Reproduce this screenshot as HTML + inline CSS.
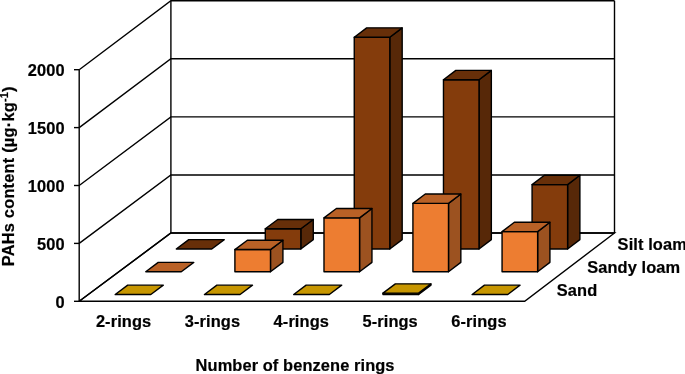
<!DOCTYPE html>
<html><head><meta charset="utf-8"><title>PAHs content</title>
<style>html,body{margin:0;padding:0;background:#fff}svg{display:block}</style></head>
<body>
<svg width="685" height="374" viewBox="0 0 685 374">
<rect width="685" height="374" fill="#fff"/>
<g fill="none" stroke="#000" stroke-width="1.4" stroke-linejoin="miter" stroke-linecap="butt">
<polyline points="79.20,301.30 170.90,233.00 614.50,233.00"/>
<polyline points="79.20,243.40 170.90,174.93 614.50,174.93"/>
<polyline points="79.20,185.50 170.90,116.85 614.50,116.85"/>
<polyline points="79.20,127.60 170.90,58.78 614.50,58.78"/>
<polyline points="79.20,69.70 170.90,0.71 614.50,0.71"/>
<polygon points="79.20,301.30 524.70,301.30 614.50,233.00 170.90,233.00"/>
<line x1="79.20" y1="301.30" x2="79.20" y2="69.70"/>
<line x1="170.90" y1="233.00" x2="170.90" y2="0.71"/>
<line x1="614.50" y1="233.00" x2="614.50" y2="0.71"/>
<line x1="74.00" y1="301.30" x2="79.20" y2="301.30"/>
<line x1="74.00" y1="243.40" x2="79.20" y2="243.40"/>
<line x1="74.00" y1="185.50" x2="79.20" y2="185.50"/>
<line x1="74.00" y1="127.60" x2="79.20" y2="127.60"/>
<line x1="74.00" y1="69.70" x2="79.20" y2="69.70"/>
</g>
<g stroke="#000" stroke-width="1.4" stroke-linejoin="round">
<polygon fill="#672F09" points="176.25,248.94 211.77,248.94 224.27,239.60 188.76,239.60"/>
<polygon fill="#572808" points="300.83,248.94 313.27,239.60 313.27,219.45 300.83,228.79"/>
<polygon fill="#843C0C" points="265.30,248.94 300.83,248.94 300.83,228.79 265.30,228.79"/>
<polygon fill="#672F09" points="265.30,228.79 300.83,228.79 313.27,219.45 277.77,219.45"/>
<polygon fill="#572808" points="389.79,248.94 402.18,239.60 402.18,27.83 389.79,37.25"/>
<polygon fill="#843C0C" points="354.26,248.94 389.79,248.94 389.79,37.25 354.26,37.25"/>
<polygon fill="#672F09" points="354.26,37.25 389.79,37.25 402.18,27.83 366.68,27.83"/>
<polygon fill="#572808" points="479.00,248.94 491.34,239.60 491.34,70.34 479.00,79.75"/>
<polygon fill="#843C0C" points="443.47,248.94 479.00,248.94 479.00,79.75 443.47,79.75"/>
<polygon fill="#672F09" points="443.47,79.75 479.00,79.75 491.34,70.34 455.83,70.34"/>
<polygon fill="#572808" points="567.60,248.94 579.89,239.60 579.89,175.23 567.60,184.59"/>
<polygon fill="#843C0C" points="532.08,248.94 567.60,248.94 567.60,184.59 532.08,184.59"/>
<polygon fill="#672F09" points="532.08,184.59 567.60,184.59 579.89,175.23 544.39,175.23"/>
<polygon fill="#B96126" points="145.72,271.70 181.29,271.70 193.79,262.37 158.23,262.37"/>
<polygon fill="#9C5220" points="270.48,271.70 282.92,262.37 282.92,240.23 270.48,249.57"/>
<polygon fill="#ED7D31" points="234.90,271.70 270.48,271.70 270.48,249.57 234.90,249.57"/>
<polygon fill="#B96126" points="234.90,249.57 270.48,249.57 282.92,240.23 247.37,240.23"/>
<polygon fill="#9C5220" points="359.56,271.70 371.95,262.37 371.95,208.48 359.56,217.83"/>
<polygon fill="#ED7D31" points="323.99,271.70 359.56,271.70 359.56,217.83 323.99,217.83"/>
<polygon fill="#B96126" points="323.99,217.83 359.56,217.83 371.95,208.48 336.40,208.48"/>
<polygon fill="#9C5220" points="448.50,271.70 460.84,262.37 460.84,194.05 448.50,203.41"/>
<polygon fill="#ED7D31" points="412.92,271.70 448.50,271.70 448.50,203.41 412.92,203.41"/>
<polygon fill="#B96126" points="412.92,203.41 448.50,203.41 460.84,194.05 425.28,194.05"/>
<polygon fill="#9C5220" points="537.63,271.70 549.92,262.37 549.92,222.30 537.63,231.65"/>
<polygon fill="#ED7D31" points="502.06,271.70 537.63,271.70 537.63,231.65 502.06,231.65"/>
<polygon fill="#B96126" points="502.06,231.65 537.63,231.65 549.92,222.30 514.37,222.30"/>
<polygon fill="#C79600" points="115.19,294.47 150.81,294.47 163.31,285.14 127.71,285.14"/>
<polygon fill="#C79600" points="204.45,294.47 240.08,294.47 252.52,285.14 216.92,285.14"/>
<polygon fill="#C79600" points="293.71,294.47 329.34,294.47 341.73,285.14 306.13,285.14"/>
<polygon fill="#A87E00" points="418.60,294.47 430.94,285.14 430.94,283.83 418.60,293.17"/>
<polygon fill="#FFC000" points="382.97,294.47 418.60,294.47 418.60,293.17 382.97,293.17"/>
<polygon fill="#C79600" points="382.97,293.17 418.60,293.17 430.94,283.83 395.34,283.83"/>
<polygon fill="#C79600" points="472.14,294.47 507.76,294.47 520.05,285.14 484.45,285.14"/>
</g>
<g font-family="'Liberation Sans', Arial, sans-serif" font-weight="bold" font-size="16.4px" letter-spacing="0.1" fill="#000" stroke="#000" stroke-width="0.2">
<text x="64.9" y="307.80" text-anchor="end" letter-spacing="0.2">0</text>
<text x="64.9" y="249.90" text-anchor="end" letter-spacing="0.2">500</text>
<text x="64.9" y="192.00" text-anchor="end" letter-spacing="0.2">1000</text>
<text x="64.9" y="134.10" text-anchor="end" letter-spacing="0.2">1500</text>
<text x="64.9" y="76.20" text-anchor="end" letter-spacing="0.2">2000</text>
<text x="123.60" y="326.8" text-anchor="middle">2-rings</text>
<text x="212.45" y="326.8" text-anchor="middle">3-rings</text>
<text x="301.30" y="326.8" text-anchor="middle">4-rings</text>
<text x="390.15" y="326.8" text-anchor="middle">5-rings</text>
<text x="479.00" y="326.8" text-anchor="middle">6-rings</text>
<text x="295.1" y="370.6" text-anchor="middle">Number of benzene rings</text>
<text x="617.6" y="249.5">Silt loam</text>
<text x="587.2" y="272.7">Sandy loam</text>
<text x="556.8" y="295.5">Sand</text>
<text transform="translate(14.0,176.2) rotate(-90)" text-anchor="middle" letter-spacing="0.2">PAHs content (µg·kg<tspan font-size="11px" dy="-6.5">-1</tspan><tspan dy="6.5">)</tspan></text>
</g>
</svg>
</body></html>
